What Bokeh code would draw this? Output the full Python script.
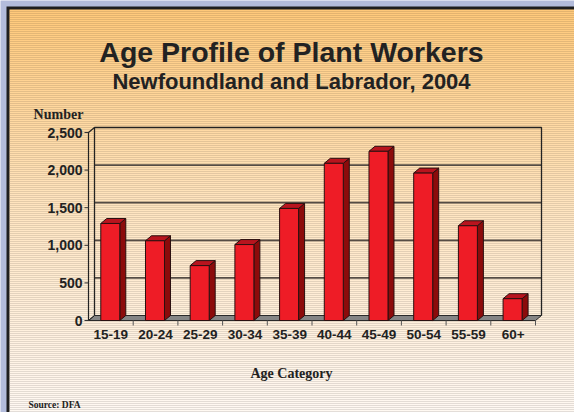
from bokeh.plotting import figure
from bokeh.models import Range1d
from bokeh.embed import file_html
from bokeh.resources import INLINE
from bokeh.core.properties import value

# ---- data ----
categories = ["15-19", "20-24", "25-29", "30-34", "35-39", "40-44", "45-49", "50-54", "55-59", "60+"]
workers = [1290, 1060, 730, 1010, 1490, 2090, 2250, 1960, 1260, 290]
y_ticks = [0, 500, 1000, 1500, 2000, 2500]
y_tick_labels = ["0", "500", "1,000", "1,500", "2,000", "2,500"]
title_text = "Age Profile of Plant Workers"
subtitle_text = "Newfoundland and Labrador, 2004"
y_title = "Number"
x_title = "Age Category"
source_text = "Source: DFA"

# ---- geometry (page pixel space) ----
W, H = 574, 412
PX0, PY0 = 0, 0
PANEL0 = 9                   # where the orange panel starts
AX_X0 = 88                   # front axis x (page)
CAT_W = 44.7                 # px per category
ZERO_Y = 320                 # page y of value 0 (front)
PX_PER_UNIT = 188 / 2500.0
DEPTH_X, DEPTH_Y = 6, 5      # 3D depth in px

def cat_at(px):
    return (px - AX_X0) / CAT_W

def val_at(py):
    return (ZERO_Y - py) / PX_PER_UNIT

dx = DEPTH_X / CAT_W
dy = DEPTH_Y / PX_PER_UNIT

p = figure(width=W, height=H, output_backend="svg", toolbar_location=None,
           x_range=Range1d(PX0, PX0 + W), y_range=Range1d(PY0 + H, PY0),
           min_border=0, border_fill_color=None, outline_line_color=None)
p.axis.visible = False
p.grid.visible = False
p.background_fill_color = "#b3bcdb"

p.extra_x_ranges = {"cat": Range1d(cat_at(PX0), cat_at(PX0 + W))}
p.extra_y_ranges = {"val": Range1d(val_at(PY0 + H), val_at(PY0))}

# dark frame
p.quad(left=6, right=W + 2, top=6, bottom=H + 2, fill_color="#1e1e1e", line_color=None)

# ---- background gradient (strips) ----
stops = [(PANEL0, (255, 201, 122)), (200, (255, 228, 190)), (H, (255, 249, 243))]
def grad(y):
    for (y0, c0), (y1, c1) in zip(stops[:-1], stops[1:]):
        if y0 <= y <= y1:
            t = (y - y0) / (y1 - y0)
            return "#%02x%02x%02x" % tuple(int(round(a + (b - a) * t)) for a, b in zip(c0, c1))
    return "#%02x%02x%02x" % stops[-1][1]

top_s, bot_s, cols = [], [], []
y = PANEL0
while y < H:
    top_s.append(y)
    bot_s.append(y + 2.2)
    cols.append(grad(y + 1))
    y += 2
p.quad(left=PANEL0, right=W + 2, top=top_s, bottom=bot_s, fill_color=cols, line_color=None)

R = dict(x_range_name="cat", y_range_name="val")
n = len(categories)

# ---- floor ----
p.patch(x=[0, n, n + dx, dx], y=[0, 0, dy, dy], fill_color="#858585",
        line_color="#2a2a2a", line_width=1, **R)

# ---- back wall gridlines ----
grid_vals = [v + dy for v in y_ticks[1:-1]]
p.segment(x0=[dx] * len(grid_vals), y0=grid_vals, x1=[n + dx] * len(grid_vals), y1=grid_vals,
          line_color="#554c45", line_width=1.8, **R)
# wall outline (top, right, left back edge)
top_v = y_ticks[-1]
p.line(x=[dx, dx, n + dx, n + dx], y=[dy, top_v + dy, top_v + dy, dy],
       line_color="#222222", line_width=1.3, **R)
# front axis line + diagonal to back top
p.line(x=[0, 0, dx], y=[0, top_v, top_v + dy], line_color="#222222", line_width=1.2, **R)
p.line(x=[0, dx], y=[0, dy], line_color="#222222", line_width=1.0, **R)

# y ticks (left of front axis)
tick_len = 4 / CAT_W
p.segment(x0=[-tick_len] * len(y_ticks), y0=y_ticks, x1=[0] * len(y_ticks), y1=y_ticks,
          line_color="#333333", line_width=1, **R)
# x ticks at category boundaries (below floor front)
bounds = list(range(1, n + 1))
tick_dv = 5 / PX_PER_UNIT
p.segment(x0=bounds, y0=[0] * n, x1=bounds, y1=[-tick_dv] * n,
          line_color="#555555", line_width=1, **R)

# ---- 3D bars ----
off_l, off_r = 0.275, 0.70
for i, v in enumerate(workers):
    l, r = i + off_l, i + off_r
    # side
    p.patch(x=[r, r + dx, r + dx, r], y=[0, dy, v + dy, v], fill_color="#8c0b0b",
            line_color="#2a1010", line_width=1, **R)
    # top
    p.patch(x=[l, l + dx, r + dx, r], y=[v, v + dy, v + dy, v], fill_color="#b8141e",
            line_color="#2a1010", line_width=1, **R)
p.quad(left=[i + off_l for i in range(n)], right=[i + off_r for i in range(n)],
       bottom=0, top=workers, fill_color="#ee1c26", line_color="#2a1010", line_width=1, **R)

# ---- texts ----
arial = value("Liberation Sans")
times = value("Liberation Serif")

p.text(x=[82] * len(y_ticks), y=y_ticks, text=y_tick_labels, text_font=arial,
       text_font_size="14px", text_font_style="bold", text_color="#222222",
       text_align="right", text_baseline="middle", y_range_name="val")
p.text(x=[i + 0.5 for i in range(n)], y=[334] * n, text=categories, text_font=arial,
       text_font_size="13.5px", text_font_style="bold", text_color="#222222",
       text_align="center", text_baseline="middle", x_range_name="cat")

p.text(x=[291], y=[51], text=[title_text], text_font=arial, text_font_size="28.5px",
       text_font_style="bold", text_color="#222222", text_align="center",
       text_baseline="alphabetic")
p.text(x=[291], y=[81], text=[subtitle_text], text_font=arial, text_font_size="22px",
       text_font_style="bold", text_color="#222222", text_align="center",
       text_baseline="alphabetic")
p.text(x=[58], y=[114], text=[y_title], text_font=times, text_font_size="14px",
       text_font_style="bold", text_color="#222222", text_align="center",
       text_baseline="alphabetic")
p.text(x=[291], y=[373], text=[x_title], text_font=times, text_font_size="14px",
       text_font_style="bold", text_color="#222222", text_align="center",
       text_baseline="alphabetic")
p.text(x=[28], y=[404], text=[source_text], text_font=times, text_font_size="9.5px",
       text_font_style="bold", text_color="#222222", text_align="left",
       text_baseline="alphabetic")

open("out.html", "w").write(file_html(p, INLINE))
